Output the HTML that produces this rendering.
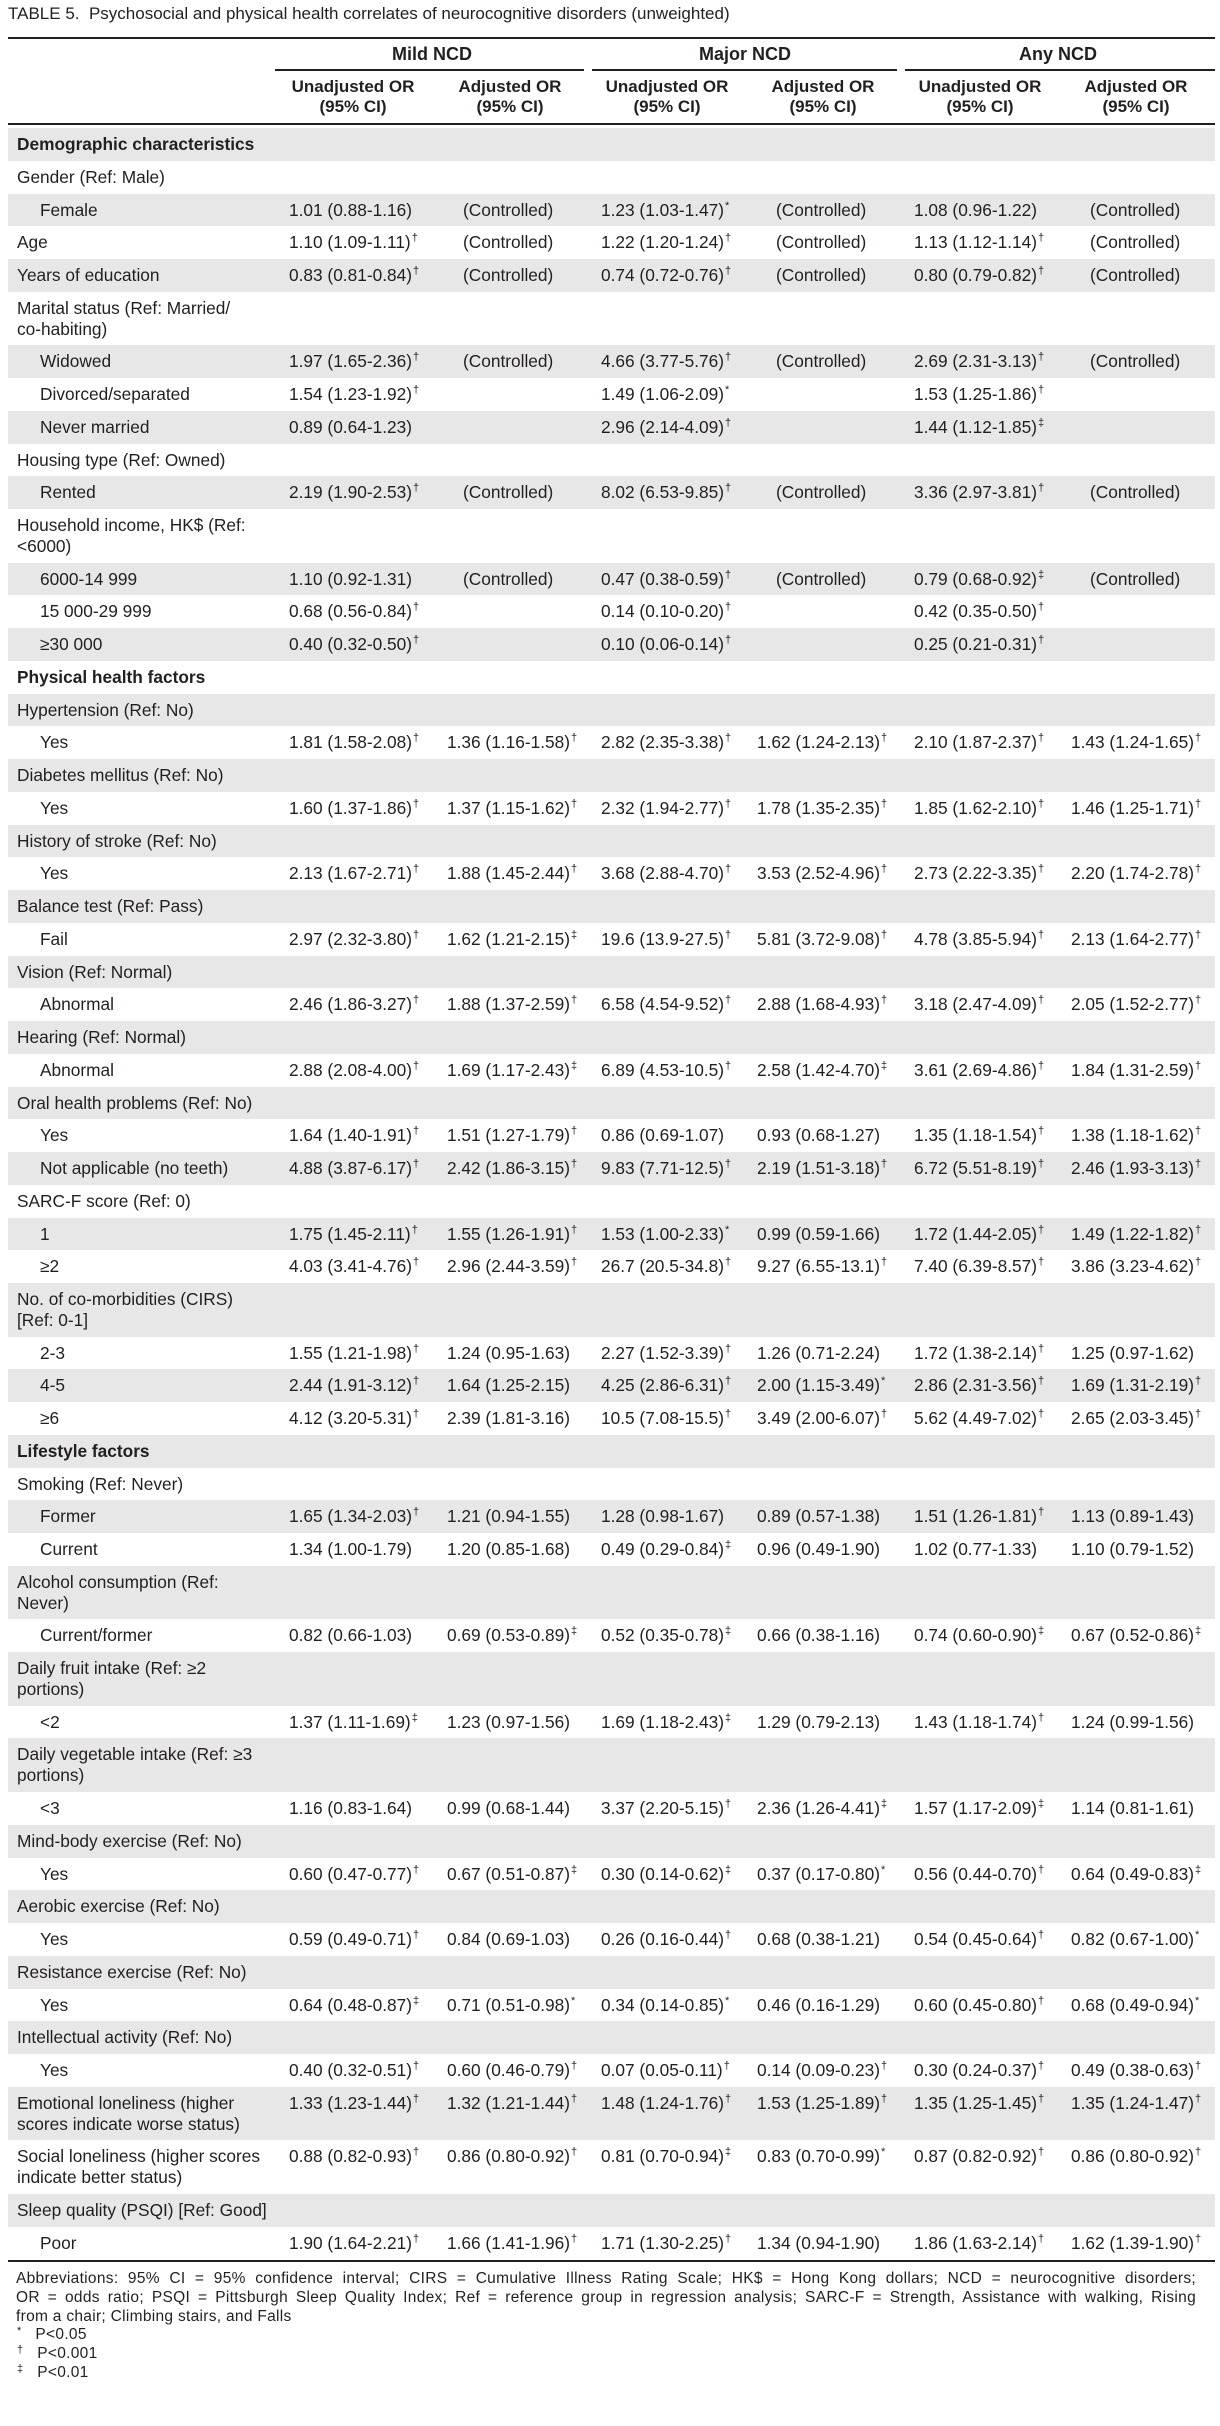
<!DOCTYPE html>
<html><head><meta charset="utf-8"><style>
*{margin:0;padding:0;box-sizing:border-box}
body{width:1220px;height:2426px;background:#fff;position:relative;font-family:"Liberation Sans",Arial,sans-serif;color:#231f20;overflow:hidden}
.title{position:absolute;left:8px;top:4px;font-size:17px;white-space:nowrap}
.rule{position:absolute;left:8px;width:1207px;height:2px;background:#231f20}
.gu{position:absolute;top:69px;height:2px;background:#231f20}
.gh{position:absolute;top:44px;font-weight:bold;font-size:18px;text-align:center;width:200px}
.sh{position:absolute;top:77px;font-weight:bold;font-size:17px;line-height:20px;text-align:center;width:160px}
#rows{position:absolute;left:0;top:128px;width:1220px}
.r{position:relative;height:32.75px;font-size:17.3px;line-height:21px}
.r.d{height:53.55px}
.r.s::before{content:"";position:absolute;left:8px;right:5px;top:0;bottom:0;background:#e7e7e8}
.r>div{position:absolute;top:6px;white-space:nowrap}
.l{left:17px}.l.i{left:40px}.b{font-weight:bold}
.c1{left:289px}.c2{left:447px}.c3{left:601px}.c4{left:757px}.c5{left:914px}.c6{left:1071px}
.c2.ct{left:463px}.c4.ct{left:776px}.c6.ct{left:1090px}
sup{font-size:11px;vertical-align:0;position:relative;top:-7px;margin-left:1px}
.foot{position:absolute;left:16px;font-size:15.5px;letter-spacing:0.3px;line-height:19px;white-space:nowrap}
.j{width:1180px;text-align:justify;text-align-last:justify;white-space:normal}
</style></head><body>
<div class="title">TABLE 5.&nbsp; Psychosocial and physical health correlates of neurocognitive disorders (unweighted)</div>
<div class="rule" style="top:37px"></div>
<div class="gh" style="left:332px">Mild NCD</div>
<div class="gh" style="left:645px">Major NCD</div>
<div class="gh" style="left:958px">Any NCD</div>
<div class="gu" style="left:275px;width:309px"></div>
<div class="gu" style="left:592px;width:305px"></div>
<div class="gu" style="left:905px;width:310px"></div>
<div class="sh" style="left:273px">Unadjusted OR<br>(95% CI)</div>
<div class="sh" style="left:430px">Adjusted OR<br>(95% CI)</div>
<div class="sh" style="left:587px">Unadjusted OR<br>(95% CI)</div>
<div class="sh" style="left:743px">Adjusted OR<br>(95% CI)</div>
<div class="sh" style="left:900px">Unadjusted OR<br>(95% CI)</div>
<div class="sh" style="left:1056px">Adjusted OR<br>(95% CI)</div>
<div class="rule" style="top:123px"></div>
<div id="rows">
<div class="r s"><div class="l b">Demographic characteristics</div></div>
<div class="r"><div class="l">Gender (Ref: Male)</div></div>
<div class="r s"><div class="l i">Female</div><div class="c1">1.01 (0.88-1.16)</div><div class="c2 ct">(Controlled)</div><div class="c3">1.23 (1.03-1.47)<sup>*</sup></div><div class="c4 ct">(Controlled)</div><div class="c5">1.08 (0.96-1.22)</div><div class="c6 ct">(Controlled)</div></div>
<div class="r"><div class="l">Age</div><div class="c1">1.10 (1.09-1.11)<sup>†</sup></div><div class="c2 ct">(Controlled)</div><div class="c3">1.22 (1.20-1.24)<sup>†</sup></div><div class="c4 ct">(Controlled)</div><div class="c5">1.13 (1.12-1.14)<sup>†</sup></div><div class="c6 ct">(Controlled)</div></div>
<div class="r s"><div class="l">Years of education</div><div class="c1">0.83 (0.81-0.84)<sup>†</sup></div><div class="c2 ct">(Controlled)</div><div class="c3">0.74 (0.72-0.76)<sup>†</sup></div><div class="c4 ct">(Controlled)</div><div class="c5">0.80 (0.79-0.82)<sup>†</sup></div><div class="c6 ct">(Controlled)</div></div>
<div class="r d"><div class="l">Marital status (Ref: Married/<br>co-habiting)</div></div>
<div class="r s"><div class="l i">Widowed</div><div class="c1">1.97 (1.65-2.36)<sup>†</sup></div><div class="c2 ct">(Controlled)</div><div class="c3">4.66 (3.77-5.76)<sup>†</sup></div><div class="c4 ct">(Controlled)</div><div class="c5">2.69 (2.31-3.13)<sup>†</sup></div><div class="c6 ct">(Controlled)</div></div>
<div class="r"><div class="l i">Divorced/separated</div><div class="c1">1.54 (1.23-1.92)<sup>†</sup></div><div class="c3">1.49 (1.06-2.09)<sup>*</sup></div><div class="c5">1.53 (1.25-1.86)<sup>†</sup></div></div>
<div class="r s"><div class="l i">Never married</div><div class="c1">0.89 (0.64-1.23)</div><div class="c3">2.96 (2.14-4.09)<sup>†</sup></div><div class="c5">1.44 (1.12-1.85)<sup>‡</sup></div></div>
<div class="r"><div class="l">Housing type (Ref: Owned)</div></div>
<div class="r s"><div class="l i">Rented</div><div class="c1">2.19 (1.90-2.53)<sup>†</sup></div><div class="c2 ct">(Controlled)</div><div class="c3">8.02 (6.53-9.85)<sup>†</sup></div><div class="c4 ct">(Controlled)</div><div class="c5">3.36 (2.97-3.81)<sup>†</sup></div><div class="c6 ct">(Controlled)</div></div>
<div class="r d"><div class="l">Household income, HK$ (Ref:<br>&lt;6000)</div></div>
<div class="r s"><div class="l i">6000-14 999</div><div class="c1">1.10 (0.92-1.31)</div><div class="c2 ct">(Controlled)</div><div class="c3">0.47 (0.38-0.59)<sup>†</sup></div><div class="c4 ct">(Controlled)</div><div class="c5">0.79 (0.68-0.92)<sup>‡</sup></div><div class="c6 ct">(Controlled)</div></div>
<div class="r"><div class="l i">15 000-29 999</div><div class="c1">0.68 (0.56-0.84)<sup>†</sup></div><div class="c3">0.14 (0.10-0.20)<sup>†</sup></div><div class="c5">0.42 (0.35-0.50)<sup>†</sup></div></div>
<div class="r s"><div class="l i">≥30 000</div><div class="c1">0.40 (0.32-0.50)<sup>†</sup></div><div class="c3">0.10 (0.06-0.14)<sup>†</sup></div><div class="c5">0.25 (0.21-0.31)<sup>†</sup></div></div>
<div class="r"><div class="l b">Physical health factors</div></div>
<div class="r s"><div class="l">Hypertension (Ref: No)</div></div>
<div class="r"><div class="l i">Yes</div><div class="c1">1.81 (1.58-2.08)<sup>†</sup></div><div class="c2">1.36 (1.16-1.58)<sup>†</sup></div><div class="c3">2.82 (2.35-3.38)<sup>†</sup></div><div class="c4">1.62 (1.24-2.13)<sup>†</sup></div><div class="c5">2.10 (1.87-2.37)<sup>†</sup></div><div class="c6">1.43 (1.24-1.65)<sup>†</sup></div></div>
<div class="r s"><div class="l">Diabetes mellitus (Ref: No)</div></div>
<div class="r"><div class="l i">Yes</div><div class="c1">1.60 (1.37-1.86)<sup>†</sup></div><div class="c2">1.37 (1.15-1.62)<sup>†</sup></div><div class="c3">2.32 (1.94-2.77)<sup>†</sup></div><div class="c4">1.78 (1.35-2.35)<sup>†</sup></div><div class="c5">1.85 (1.62-2.10)<sup>†</sup></div><div class="c6">1.46 (1.25-1.71)<sup>†</sup></div></div>
<div class="r s"><div class="l">History of stroke (Ref: No)</div></div>
<div class="r"><div class="l i">Yes</div><div class="c1">2.13 (1.67-2.71)<sup>†</sup></div><div class="c2">1.88 (1.45-2.44)<sup>†</sup></div><div class="c3">3.68 (2.88-4.70)<sup>†</sup></div><div class="c4">3.53 (2.52-4.96)<sup>†</sup></div><div class="c5">2.73 (2.22-3.35)<sup>†</sup></div><div class="c6">2.20 (1.74-2.78)<sup>†</sup></div></div>
<div class="r s"><div class="l">Balance test (Ref: Pass)</div></div>
<div class="r"><div class="l i">Fail</div><div class="c1">2.97 (2.32-3.80)<sup>†</sup></div><div class="c2">1.62 (1.21-2.15)<sup>‡</sup></div><div class="c3">19.6 (13.9-27.5)<sup>†</sup></div><div class="c4">5.81 (3.72-9.08)<sup>†</sup></div><div class="c5">4.78 (3.85-5.94)<sup>†</sup></div><div class="c6">2.13 (1.64-2.77)<sup>†</sup></div></div>
<div class="r s"><div class="l">Vision (Ref: Normal)</div></div>
<div class="r"><div class="l i">Abnormal</div><div class="c1">2.46 (1.86-3.27)<sup>†</sup></div><div class="c2">1.88 (1.37-2.59)<sup>†</sup></div><div class="c3">6.58 (4.54-9.52)<sup>†</sup></div><div class="c4">2.88 (1.68-4.93)<sup>†</sup></div><div class="c5">3.18 (2.47-4.09)<sup>†</sup></div><div class="c6">2.05 (1.52-2.77)<sup>†</sup></div></div>
<div class="r s"><div class="l">Hearing (Ref: Normal)</div></div>
<div class="r"><div class="l i">Abnormal</div><div class="c1">2.88 (2.08-4.00)<sup>†</sup></div><div class="c2">1.69 (1.17-2.43)<sup>‡</sup></div><div class="c3">6.89 (4.53-10.5)<sup>†</sup></div><div class="c4">2.58 (1.42-4.70)<sup>‡</sup></div><div class="c5">3.61 (2.69-4.86)<sup>†</sup></div><div class="c6">1.84 (1.31-2.59)<sup>†</sup></div></div>
<div class="r s"><div class="l">Oral health problems (Ref: No)</div></div>
<div class="r"><div class="l i">Yes</div><div class="c1">1.64 (1.40-1.91)<sup>†</sup></div><div class="c2">1.51 (1.27-1.79)<sup>†</sup></div><div class="c3">0.86 (0.69-1.07)</div><div class="c4">0.93 (0.68-1.27)</div><div class="c5">1.35 (1.18-1.54)<sup>†</sup></div><div class="c6">1.38 (1.18-1.62)<sup>†</sup></div></div>
<div class="r s"><div class="l i">Not applicable (no teeth)</div><div class="c1">4.88 (3.87-6.17)<sup>†</sup></div><div class="c2">2.42 (1.86-3.15)<sup>†</sup></div><div class="c3">9.83 (7.71-12.5)<sup>†</sup></div><div class="c4">2.19 (1.51-3.18)<sup>†</sup></div><div class="c5">6.72 (5.51-8.19)<sup>†</sup></div><div class="c6">2.46 (1.93-3.13)<sup>†</sup></div></div>
<div class="r"><div class="l">SARC-F score (Ref: 0)</div></div>
<div class="r s"><div class="l i">1</div><div class="c1">1.75 (1.45-2.11)<sup>†</sup></div><div class="c2">1.55 (1.26-1.91)<sup>†</sup></div><div class="c3">1.53 (1.00-2.33)<sup>*</sup></div><div class="c4">0.99 (0.59-1.66)</div><div class="c5">1.72 (1.44-2.05)<sup>†</sup></div><div class="c6">1.49 (1.22-1.82)<sup>†</sup></div></div>
<div class="r"><div class="l i">≥2</div><div class="c1">4.03 (3.41-4.76)<sup>†</sup></div><div class="c2">2.96 (2.44-3.59)<sup>†</sup></div><div class="c3">26.7 (20.5-34.8)<sup>†</sup></div><div class="c4">9.27 (6.55-13.1)<sup>†</sup></div><div class="c5">7.40 (6.39-8.57)<sup>†</sup></div><div class="c6">3.86 (3.23-4.62)<sup>†</sup></div></div>
<div class="r d s"><div class="l">No. of co-morbidities (CIRS)<br>[Ref: 0-1]</div></div>
<div class="r"><div class="l i">2-3</div><div class="c1">1.55 (1.21-1.98)<sup>†</sup></div><div class="c2">1.24 (0.95-1.63)</div><div class="c3">2.27 (1.52-3.39)<sup>†</sup></div><div class="c4">1.26 (0.71-2.24)</div><div class="c5">1.72 (1.38-2.14)<sup>†</sup></div><div class="c6">1.25 (0.97-1.62)</div></div>
<div class="r s"><div class="l i">4-5</div><div class="c1">2.44 (1.91-3.12)<sup>†</sup></div><div class="c2">1.64 (1.25-2.15)</div><div class="c3">4.25 (2.86-6.31)<sup>†</sup></div><div class="c4">2.00 (1.15-3.49)<sup>*</sup></div><div class="c5">2.86 (2.31-3.56)<sup>†</sup></div><div class="c6">1.69 (1.31-2.19)<sup>†</sup></div></div>
<div class="r"><div class="l i">≥6</div><div class="c1">4.12 (3.20-5.31)<sup>†</sup></div><div class="c2">2.39 (1.81-3.16)</div><div class="c3">10.5 (7.08-15.5)<sup>†</sup></div><div class="c4">3.49 (2.00-6.07)<sup>†</sup></div><div class="c5">5.62 (4.49-7.02)<sup>†</sup></div><div class="c6">2.65 (2.03-3.45)<sup>†</sup></div></div>
<div class="r s"><div class="l b">Lifestyle factors</div></div>
<div class="r"><div class="l">Smoking (Ref: Never)</div></div>
<div class="r s"><div class="l i">Former</div><div class="c1">1.65 (1.34-2.03)<sup>†</sup></div><div class="c2">1.21 (0.94-1.55)</div><div class="c3">1.28 (0.98-1.67)</div><div class="c4">0.89 (0.57-1.38)</div><div class="c5">1.51 (1.26-1.81)<sup>†</sup></div><div class="c6">1.13 (0.89-1.43)</div></div>
<div class="r"><div class="l i">Current</div><div class="c1">1.34 (1.00-1.79)</div><div class="c2">1.20 (0.85-1.68)</div><div class="c3">0.49 (0.29-0.84)<sup>‡</sup></div><div class="c4">0.96 (0.49-1.90)</div><div class="c5">1.02 (0.77-1.33)</div><div class="c6">1.10 (0.79-1.52)</div></div>
<div class="r d s"><div class="l">Alcohol consumption (Ref:<br>Never)</div></div>
<div class="r"><div class="l i">Current/former</div><div class="c1">0.82 (0.66-1.03)</div><div class="c2">0.69 (0.53-0.89)<sup>‡</sup></div><div class="c3">0.52 (0.35-0.78)<sup>‡</sup></div><div class="c4">0.66 (0.38-1.16)</div><div class="c5">0.74 (0.60-0.90)<sup>‡</sup></div><div class="c6">0.67 (0.52-0.86)<sup>‡</sup></div></div>
<div class="r d s"><div class="l">Daily fruit intake (Ref: ≥2<br>portions)</div></div>
<div class="r"><div class="l i">&lt;2</div><div class="c1">1.37 (1.11-1.69)<sup>‡</sup></div><div class="c2">1.23 (0.97-1.56)</div><div class="c3">1.69 (1.18-2.43)<sup>‡</sup></div><div class="c4">1.29 (0.79-2.13)</div><div class="c5">1.43 (1.18-1.74)<sup>†</sup></div><div class="c6">1.24 (0.99-1.56)</div></div>
<div class="r d s"><div class="l">Daily vegetable intake (Ref: ≥3<br>portions)</div></div>
<div class="r"><div class="l i">&lt;3</div><div class="c1">1.16 (0.83-1.64)</div><div class="c2">0.99 (0.68-1.44)</div><div class="c3">3.37 (2.20-5.15)<sup>†</sup></div><div class="c4">2.36 (1.26-4.41)<sup>‡</sup></div><div class="c5">1.57 (1.17-2.09)<sup>‡</sup></div><div class="c6">1.14 (0.81-1.61)</div></div>
<div class="r s"><div class="l">Mind-body exercise (Ref: No)</div></div>
<div class="r"><div class="l i">Yes</div><div class="c1">0.60 (0.47-0.77)<sup>†</sup></div><div class="c2">0.67 (0.51-0.87)<sup>‡</sup></div><div class="c3">0.30 (0.14-0.62)<sup>‡</sup></div><div class="c4">0.37 (0.17-0.80)<sup>*</sup></div><div class="c5">0.56 (0.44-0.70)<sup>†</sup></div><div class="c6">0.64 (0.49-0.83)<sup>‡</sup></div></div>
<div class="r s"><div class="l">Aerobic exercise (Ref: No)</div></div>
<div class="r"><div class="l i">Yes</div><div class="c1">0.59 (0.49-0.71)<sup>†</sup></div><div class="c2">0.84 (0.69-1.03)</div><div class="c3">0.26 (0.16-0.44)<sup>†</sup></div><div class="c4">0.68 (0.38-1.21)</div><div class="c5">0.54 (0.45-0.64)<sup>†</sup></div><div class="c6">0.82 (0.67-1.00)<sup>*</sup></div></div>
<div class="r s"><div class="l">Resistance exercise (Ref: No)</div></div>
<div class="r"><div class="l i">Yes</div><div class="c1">0.64 (0.48-0.87)<sup>‡</sup></div><div class="c2">0.71 (0.51-0.98)<sup>*</sup></div><div class="c3">0.34 (0.14-0.85)<sup>*</sup></div><div class="c4">0.46 (0.16-1.29)</div><div class="c5">0.60 (0.45-0.80)<sup>†</sup></div><div class="c6">0.68 (0.49-0.94)<sup>*</sup></div></div>
<div class="r s"><div class="l">Intellectual activity (Ref: No)</div></div>
<div class="r"><div class="l i">Yes</div><div class="c1">0.40 (0.32-0.51)<sup>†</sup></div><div class="c2">0.60 (0.46-0.79)<sup>†</sup></div><div class="c3">0.07 (0.05-0.11)<sup>†</sup></div><div class="c4">0.14 (0.09-0.23)<sup>†</sup></div><div class="c5">0.30 (0.24-0.37)<sup>†</sup></div><div class="c6">0.49 (0.38-0.63)<sup>†</sup></div></div>
<div class="r d s"><div class="l">Emotional loneliness (higher<br>scores indicate worse status)</div><div class="c1">1.33 (1.23-1.44)<sup>†</sup></div><div class="c2">1.32 (1.21-1.44)<sup>†</sup></div><div class="c3">1.48 (1.24-1.76)<sup>†</sup></div><div class="c4">1.53 (1.25-1.89)<sup>†</sup></div><div class="c5">1.35 (1.25-1.45)<sup>†</sup></div><div class="c6">1.35 (1.24-1.47)<sup>†</sup></div></div>
<div class="r d"><div class="l">Social loneliness (higher scores<br>indicate better status)</div><div class="c1">0.88 (0.82-0.93)<sup>†</sup></div><div class="c2">0.86 (0.80-0.92)<sup>†</sup></div><div class="c3">0.81 (0.70-0.94)<sup>‡</sup></div><div class="c4">0.83 (0.70-0.99)<sup>*</sup></div><div class="c5">0.87 (0.82-0.92)<sup>†</sup></div><div class="c6">0.86 (0.80-0.92)<sup>†</sup></div></div>
<div class="r s"><div class="l">Sleep quality (PSQI) [Ref: Good]</div></div>
<div class="r"><div class="l i">Poor</div><div class="c1">1.90 (1.64-2.21)<sup>†</sup></div><div class="c2">1.66 (1.41-1.96)<sup>†</sup></div><div class="c3">1.71 (1.30-2.25)<sup>†</sup></div><div class="c4">1.34 (0.94-1.90)</div><div class="c5">1.86 (1.63-2.14)<sup>†</sup></div><div class="c6">1.62 (1.39-1.90)<sup>†</sup></div></div>
</div>
<div class="rule" style="top:2260px"></div>
<div class="foot j" style="top:2269px">Abbreviations: 95% CI = 95% confidence interval; CIRS = Cumulative Illness Rating Scale; HK$ = Hong Kong dollars; NCD = neurocognitive disorders;</div>
<div class="foot j" style="top:2288px">OR = odds ratio; PSQI = Pittsburgh Sleep Quality Index; Ref = reference group in regression analysis; SARC-F = Strength, Assistance with walking, Rising</div>
<div class="foot" style="top:2307px">from a chair; Climbing stairs, and Falls</div>
<div class="foot" style="top:2325px"><sup style="top:-5px">*</sup>&nbsp;&nbsp; P&lt;0.05</div>
<div class="foot" style="top:2344px"><sup style="top:-5px">†</sup>&nbsp;&nbsp; P&lt;0.001</div>
<div class="foot" style="top:2363px"><sup style="top:-5px">‡</sup>&nbsp;&nbsp; P&lt;0.01</div>
</body></html>
